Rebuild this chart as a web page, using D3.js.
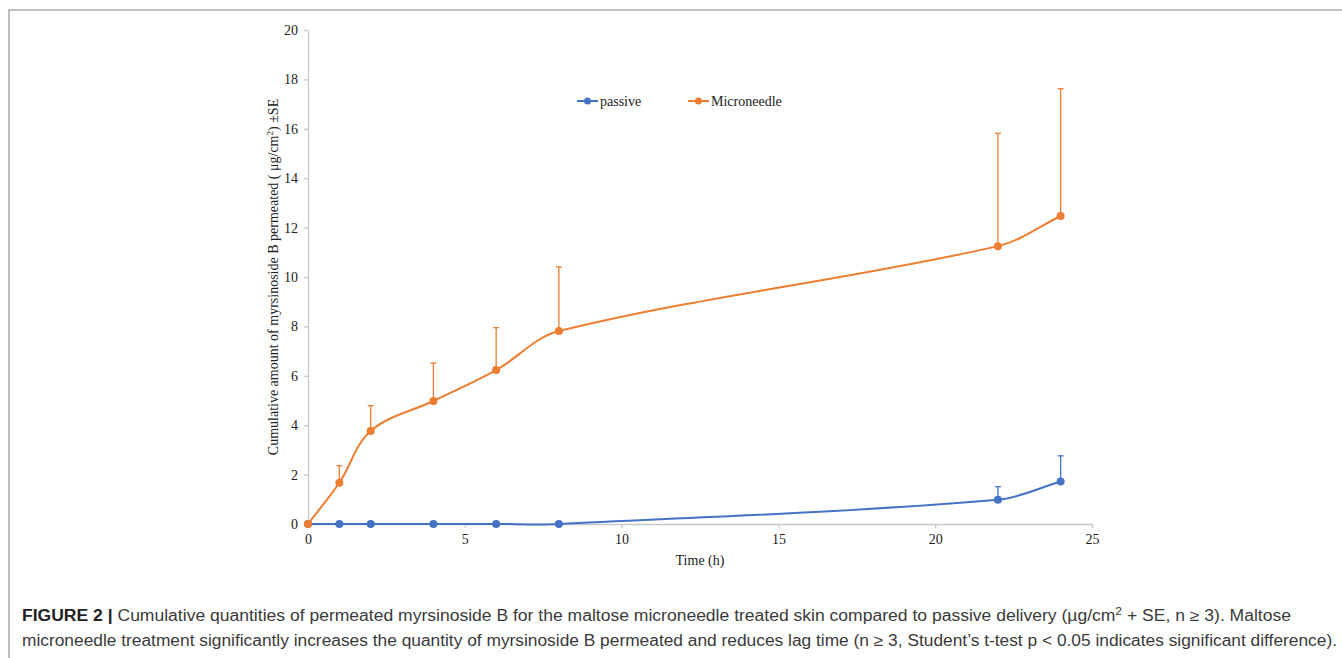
<!DOCTYPE html>
<html>
<head>
<meta charset="utf-8">
<script src="https://cdn.jsdelivr.net/npm/d3@7"></script>
<style>
  body { margin: 0; background: #fff; }
  svg { display: block; }
</style>
</head>
<body>
<div id="chart"></div>
<script>
// time points (h)
const times = [0, 1, 2, 4, 6, 8, 22, 24];
const passive = [0, 0, 0, 0, 0, 0, 0.98, 1.72];
const passiveSE = [0, 0, 0, 0, 0, 0, 0.53, 1.04];
const microneedle = [0, 1.67, 3.77, 4.98, 6.23, 7.81, 11.25, 12.47];
const microneedleSE = [0, 0.69, 1.02, 1.54, 1.72, 2.6, 4.57, 5.15];
const xTicks = [0, 5, 10, 15, 20, 25];
const yTicks = [0, 2, 4, 6, 8, 10, 12, 14, 16, 18, 20];

const W = 1342, H = 658;
const svg = d3.select("#chart").append("svg").attr("width", W).attr("height", H);

// figure frame (top + left)
svg.append("path")
    .attr("d", `M9,${H} L9,10 L${W},10`)
    .attr("fill", "none").attr("stroke", "#a9a9a9").attr("stroke-width", 1.5);

const x = d3.scaleLinear().domain([0, 25]).range([308, 1092]);
const y = d3.scaleLinear().domain([0, 20]).range([524, 30]);
const axisColor = "#c8c8c8";
const serif = "'Liberation Serif', 'Times New Roman', serif";

const xAxis = svg.append("g").attr("transform", "translate(0,524)")
    .call(d3.axisBottom(x).tickValues(xTicks).tickSize(4).tickSizeOuter(0).tickPadding(6));
const yAxis = svg.append("g").attr("transform", "translate(308,0)")
    .call(d3.axisLeft(y).tickValues(yTicks).tickSize(4).tickSizeOuter(0).tickPadding(6));
[xAxis, yAxis].forEach(g => {
    g.select(".domain").attr("stroke", axisColor).attr("stroke-width", 1.3);
    g.selectAll(".tick line").attr("stroke", axisColor).attr("stroke-width", 1.3);
    g.selectAll(".tick text").attr("fill", "#222").attr("font-family", serif).attr("font-size", 14);
});

svg.append("text")
    .attr("x", 700).attr("y", 565)
    .attr("text-anchor", "middle")
    .attr("font-family", serif).attr("font-size", 14).attr("fill", "#222")
    .text("Time (h)");

const yl = svg.append("text")
    .attr("transform", "translate(278,277) rotate(-90)")
    .attr("text-anchor", "middle")
    .attr("font-family", serif).attr("font-size", 14).attr("fill", "#222");
yl.append("tspan").text("Cumulative amount of myrsinoside B permeated ( μg/cm");
yl.append("tspan").attr("dy", -5).attr("font-size", 9).text("2");
yl.append("tspan").attr("dy", 5).text(") ±SE");

const series = [
    { name: "passive", values: passive, se: passiveSE, color: "#4472C4" },
    { name: "Microneedle", values: microneedle, se: microneedleSE, color: "#ED7D31" }
];

// spreadsheet-style smoothing: tangent along neighbour chord,
// arm length a third of each adjacent segment
function smoothPath(p) {
    const path = d3.path();
    const tan = p.map((pt, i) => {
        const a = p[Math.max(i - 1, 0)], b = p[Math.min(i + 1, p.length - 1)];
        const dx = b[0] - a[0], dy = b[1] - a[1], l = Math.hypot(dx, dy) || 1;
        return [dx / l, dy / l];
    });
    path.moveTo(p[0][0], p[0][1]);
    for (let i = 0; i < p.length - 1; i++) {
        const seg = Math.hypot(p[i + 1][0] - p[i][0], p[i + 1][1] - p[i][1]) / 3;
        path.bezierCurveTo(
            p[i][0] + tan[i][0] * seg, p[i][1] + tan[i][1] * seg,
            p[i + 1][0] - tan[i + 1][0] * seg, p[i + 1][1] - tan[i + 1][1] * seg,
            p[i + 1][0], p[i + 1][1]);
    }
    return path.toString();
}

series.forEach(s => {
    const pts = times.map((t, i) => ({ t: t, v: s.values[i], e: s.se[i] }));
    const g = svg.append("g");

    // error bars (upper only)
    pts.filter(d => d.e > 0).forEach(d => {
        g.append("line")
            .attr("x1", x(d.t)).attr("x2", x(d.t))
            .attr("y1", y(d.v)).attr("y2", y(d.v + d.e))
            .attr("stroke", s.color).attr("stroke-width", 1.3);
        g.append("line")
            .attr("x1", x(d.t) - 3).attr("x2", x(d.t) + 3)
            .attr("y1", y(d.v + d.e)).attr("y2", y(d.v + d.e))
            .attr("stroke", s.color).attr("stroke-width", 1.3);
    });

    g.append("path")
        .attr("fill", "none")
        .attr("stroke", s.color)
        .attr("stroke-width", 2)
        .attr("d", smoothPath(pts.map(d => [x(d.t), y(d.v)])));

    g.selectAll("circle")
        .data(pts)
        .enter()
        .append("circle")
        .attr("cx", d => x(d.t))
        .attr("cy", d => y(d.v))
        .attr("r", 4)
        .attr("fill", s.color);
});

// legend
const legendX = [577, 688];
series.forEach((s, i) => {
    const lg = svg.append("g").attr("transform", `translate(${legendX[i]},101)`);
    lg.append("line").attr("x1", 0).attr("x2", 21).attr("y1", 0).attr("y2", 0)
        .attr("stroke", s.color).attr("stroke-width", 2);
    lg.append("circle").attr("cx", 10.5).attr("cy", 0).attr("r", 3.5).attr("fill", s.color);
    lg.append("text").attr("x", 23).attr("y", 4.5)
        .attr("font-family", serif).attr("font-size", 14).attr("fill", "#222")
        .text(s.name);
});

// caption
const sans = "'Liberation Sans', Arial, sans-serif";
const c1 = svg.append("text")
    .attr("x", 22).attr("y", 621)
    .attr("font-family", sans).attr("font-size", 16).attr("fill", "#3a3a3a")
    .attr("textLength", 1269).attr("lengthAdjust", "spacingAndGlyphs");
c1.append("tspan").attr("font-weight", "bold").attr("fill", "#222").text("FIGURE 2 | ");
c1.append("tspan").text("Cumulative quantities of permeated myrsinoside B for the maltose microneedle treated skin compared to passive delivery (µg/cm");
c1.append("tspan").attr("dy", -6).attr("font-size", 11).text("2");
c1.append("tspan").attr("dy", 6).text(" + SE, n ≥ 3). Maltose");

svg.append("text")
    .attr("x", 22).attr("y", 646)
    .attr("font-family", sans).attr("font-size", 16).attr("fill", "#3a3a3a")
    .attr("textLength", 1315).attr("lengthAdjust", "spacingAndGlyphs")
    .text("microneedle treatment significantly increases the quantity of myrsinoside B permeated and reduces lag time (n ≥ 3, Student’s t-test p < 0.05 indicates significant difference).");
</script>
</body>
</html>
